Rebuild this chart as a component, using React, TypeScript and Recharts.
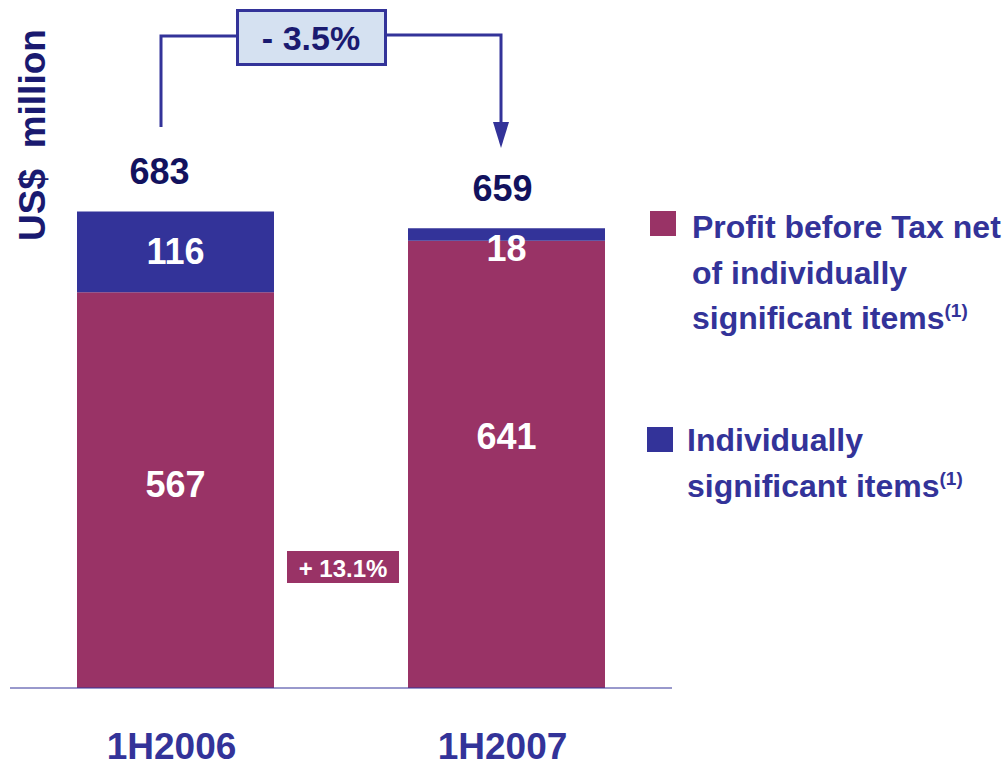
import React from "react";
import { BarChart, Bar, XAxis, YAxis, LabelList, Legend } from "recharts";

const periods = ["1H2006", "1H2007"];
const profitNet = [567, 641];
const significantItems = [116, 18];
const totals = [683, 659];
const legendLines: Record<string, string[]> = {
  profitNet: ["Profit before Tax net", "of individually", "significant items"],
  significant: ["Individually", "significant items"],
};
const totalChange = "- 3.5%";
const profitChange = "+ 13.1%";
const yLabel = "US$  million";

const MAGENTA = "#993366";
const BLUE = "#333399";
const NAVY = "#12125e";
const FONT = "'Liberation Sans', Arial, Helvetica, sans-serif";

// hand placement of the figures on the slide (px nudges, per bar)
const totalNudgeX = [-16, -4];
const profitNudgeY = [-6, -28];

const data = periods.map((p, i) => ({
  period: p,
  profitNet: profitNet[i],
  significant: significantItems[i],
}));

function ProfitLabel(props: any) {
  const { x, y, width, height, value, index } = props;
  return (
    <text
      x={x + width / 2}
      y={y + height / 2 + profitNudgeY[index]}
      textAnchor="middle"
      dominantBaseline="central"
      fill="#ffffff"
      fontSize={36}
      fontWeight="bold"
      fontFamily={FONT}
    >
      {value}
    </text>
  );
}

function ItemsLabel(props: any) {
  const { x, y, width, height, value } = props;
  // thin segment gets its figure just under the strip, like the slide
  const cy = height < 30 ? y + height + 8 : y + height / 2;
  return (
    <text
      x={x + width / 2}
      y={cy}
      textAnchor="middle"
      dominantBaseline="central"
      fill="#ffffff"
      fontSize={36}
      fontWeight="bold"
      fontFamily={FONT}
    >
      {value}
    </text>
  );
}

function TotalLabel(props: any) {
  const { x, y, width, index } = props;
  return (
    <text
      x={x + width / 2 + totalNudgeX[index]}
      y={y - 40}
      textAnchor="middle"
      dominantBaseline="central"
      fill={NAVY}
      fontSize={36}
      fontWeight="bold"
      fontFamily={FONT}
    >
      {totals[index]}
    </text>
  );
}

function PeriodTick(props: any) {
  const { x, y, payload } = props;
  return (
    <text
      x={x - 4}
      y={y + 50}
      textAnchor="middle"
      dominantBaseline="central"
      fill={BLUE}
      fontSize={37}
      fontWeight="bold"
      fontFamily={FONT}
    >
      {payload.value}
    </text>
  );
}

const legendSpots: Record<string, any> = {
  profitNet: { left: 650, top: 211, textLeft: 692, firstLine: 227 },
  significant: { left: 647, top: 427, textLeft: 687, firstLine: 440 },
};

function LegendContent(props: any) {
  const payload = props.payload || [];
  return (
    <div style={{ position: "relative", width: 1008, height: 767 }}>
      {payload.map((entry: any) => {
        const key = entry.dataKey as string;
        const spot = legendSpots[key];
        const lines = legendLines[key];
        if (!spot) return null;
        return (
          <React.Fragment key={key}>
            <div
              style={{
                position: "absolute",
                left: spot.left,
                top: spot.top,
                width: 26,
                height: 25,
                background: entry.color,
              }}
            />
            {lines.map((line, j) => (
              <div
                key={line}
                style={{
                  position: "absolute",
                  left: spot.textLeft,
                  top: spot.firstLine + j * 45.5 - 20,
                  height: 40,
                  lineHeight: "40px",
                  whiteSpace: "nowrap",
                  color: BLUE,
                  fontFamily: FONT,
                  fontWeight: "bold",
                  fontSize: 32,
                }}
              >
                {line}
                {j === lines.length - 1 && (
                  <span style={{ position: "relative", top: -12, fontSize: 19 }}>(1)</span>
                )}
              </div>
            ))}
          </React.Fragment>
        );
      })}
    </div>
  );
}

function Annotations() {
  return (
    <svg
      width={1008}
      height={767}
      style={{ position: "absolute", left: 0, top: 0, pointerEvents: "none" }}
    >
      <text
        transform="translate(32,135) rotate(-90)"
        textAnchor="middle"
        dominantBaseline="central"
        fill="#1a1a70"
        fontSize={37}
        fontWeight="bold"
        fontFamily={FONT}
        style={{ whiteSpace: "pre" }}
      >
        {yLabel}
      </text>
      <polyline
        points="161,127 161,36 237,36"
        fill="none"
        stroke={BLUE}
        strokeWidth={3}
      />
      <polyline
        points="386,35 501,35 501,124"
        fill="none"
        stroke={BLUE}
        strokeWidth={3}
      />
      <polygon points="493,122 509,122 501,148" fill={BLUE} />
      <rect
        x={237.5}
        y={10.5}
        width={148}
        height={54}
        fill="#d5e1f1"
        stroke={BLUE}
        strokeWidth={3}
      />
      <text
        x={311}
        y={38}
        textAnchor="middle"
        dominantBaseline="central"
        fill="#1a1a70"
        fontSize={34}
        fontWeight="bold"
        fontFamily={FONT}
      >
        {totalChange}
      </text>
      <rect x={287} y={551} width={112} height={32} fill={MAGENTA} />
      <text
        x={343}
        y={568}
        textAnchor="middle"
        dominantBaseline="central"
        fill="#ffffff"
        fontSize={24}
        fontWeight="bold"
        fontFamily={FONT}
      >
        {profitChange}
      </text>
    </svg>
  );
}

export default function App() {
  return (
    <div
      style={{
        position: "absolute",
        left: 0,
        top: 0,
        width: 1008,
        height: 767,
        background: "#ffffff",
        fontFamily: FONT,
      }}
    >
      <BarChart
        width={1008}
        height={767}
        data={data}
        margin={{ top: 60, right: 336, left: 10, bottom: 0 }}
        barSize={197}
      >
        <XAxis
          dataKey="period"
          height={79}
          axisLine={{ stroke: BLUE, strokeWidth: 1 }}
          tickLine={false}
          tick={<PeriodTick />}
        />
        <YAxis hide domain={[0, 900]} />
        <Legend
          layout="horizontal"
          verticalAlign="middle"
          align="center"
          wrapperStyle={{ left: 0, top: 0, width: 1008, height: 767, pointerEvents: "none" }}
          content={<LegendContent />}
        />
        <Bar
          dataKey="profitNet"
          name="Profit before Tax net of individually significant items"
          stackId="pbt"
          fill={MAGENTA}
          isAnimationActive={false}
        >
          <LabelList dataKey="profitNet" content={<ProfitLabel />} />
        </Bar>
        <Bar
          dataKey="significant"
          name="Individually significant items"
          stackId="pbt"
          fill={BLUE}
          isAnimationActive={false}
        >
          <LabelList dataKey="significant" content={<ItemsLabel />} />
          <LabelList dataKey="significant" content={<TotalLabel />} />
        </Bar>
      </BarChart>
      <Annotations />
    </div>
  );
}
